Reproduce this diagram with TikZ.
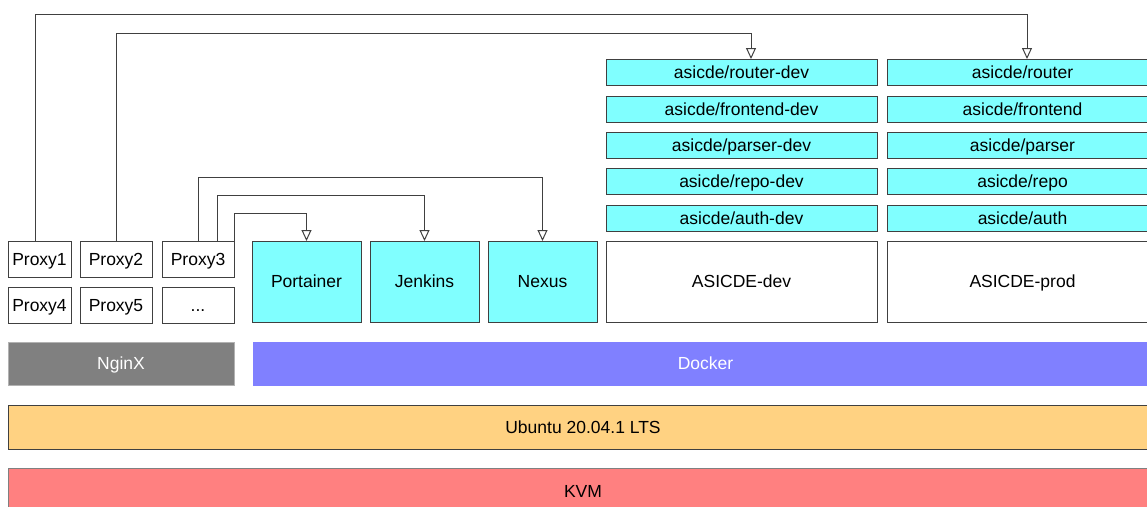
\documentclass[tikz,border=0pt]{standalone}
\usepackage{fontspec}
\setmainfont{Liberation Sans}
\usetikzlibrary{arrows.meta}
\definecolor{imgcyan}{RGB}{128,255,255}
\definecolor{dockerblue}{RGB}{128,128,255}
\definecolor{nginxgray}{RGB}{128,128,128}
\definecolor{ubuntuorange}{RGB}{255,210,130}
\definecolor{kvmred}{RGB}{255,128,128}
\begin{document}
\begin{tikzpicture}[
        x=1pt, y=-1pt,
        box/.style={rectangle, draw=black!75, line width=1pt, fill=white, anchor=north west,
            inner sep=0pt, outer sep=0pt, text height=13pt, text depth=0.8pt,
            font=\fontsize{17.5}{20}\selectfont},
        svc/.style={box, fill=imgcyan, minimum width=109pt, minimum height=81pt},
        img/.style={box, fill=imgcyan, minimum width=271pt, minimum height=26pt},
        proxy/.style={box, minimum height=36pt},
        layer/.style={box, draw=black!50, minimum height=43pt},
        conn/.style={draw=black!75, line width=1pt,
            -{Triangle[length=11pt, width=10pt, fill=white]}}
    ]
    \useasboundingbox (0,0) rectangle (1147,506);
    % proxies
    \node[proxy, minimum width=63pt] (proxy1) at (8,241) {Proxy1};
    \node[proxy, minimum width=72pt] (proxy2) at (80,241) {Proxy2};
    \node[proxy, minimum width=72pt] (proxy3) at (162,241) {Proxy3};
    \node[proxy, minimum width=63pt] (proxy4) at (8,287) {Proxy4};
    \node[proxy, minimum width=72pt] (proxy5) at (80,287) {Proxy5};
    \node[proxy, minimum width=72pt] (proxyn) at (162,287) {...};
    % services
    \node[svc] (portainer) at (252,241) {Portainer};
    \node[svc] (jenkins) at (370,241) {Jenkins};
    \node[svc] (nexus) at (488,241) {Nexus};
    % images
    \foreach \n/\y in {router/59, frontend/96, parser/132, repo/168, auth/205} {
        \node[img] (\n-dev) at (606,\y) {asicde/\n-dev};
        \node[img] (\n-prod) at (887,\y) {asicde/\n};
    }
    \node[box, minimum width=271pt, minimum height=81pt] (asicdedev) at (606,241) {ASICDE-dev};
    \node[box, minimum width=271pt, minimum height=81pt] (asicdeprod) at (887,241) {ASICDE-prod};
    % layers
    \node[layer, fill=nginxgray, draw=black!30, text=white, minimum width=226pt] (nginx) at (8,342) {NginX};
    \node[layer, fill=dockerblue, draw=dockerblue, text=white, minimum width=905pt] (docker) at (253,342) {Docker};
    \node[layer, fill=ubuntuorange, draw=black!75, minimum width=1150pt, minimum height=44pt] (ubuntu) at (8,405) {Ubuntu 20.04.1 LTS};
    \node[layer, fill=kvmred, minimum width=1150pt, minimum height=46pt] (kvm) at (8,468) {KVM};
    % connectors
    \draw[conn] ([xshift=-4.5pt]proxy1.north) -- ++(0,-227) -| ([xshift=4.5pt]router-prod.north);
    \draw[conn] (proxy2.north) -- ++(0,-208) -| ([xshift=9.5pt]router-dev.north);
    \draw[conn] (proxy3.north) -- ++(0,-64) -| (nexus.north);
    \draw[conn] ([xshift=19pt]proxy3.north) -- ++(0,-46) -| (jenkins.north);
    \draw[conn] (proxy3.north east) -- ++(0,-28) -| (portainer.north);
\end{tikzpicture}
\end{document}
